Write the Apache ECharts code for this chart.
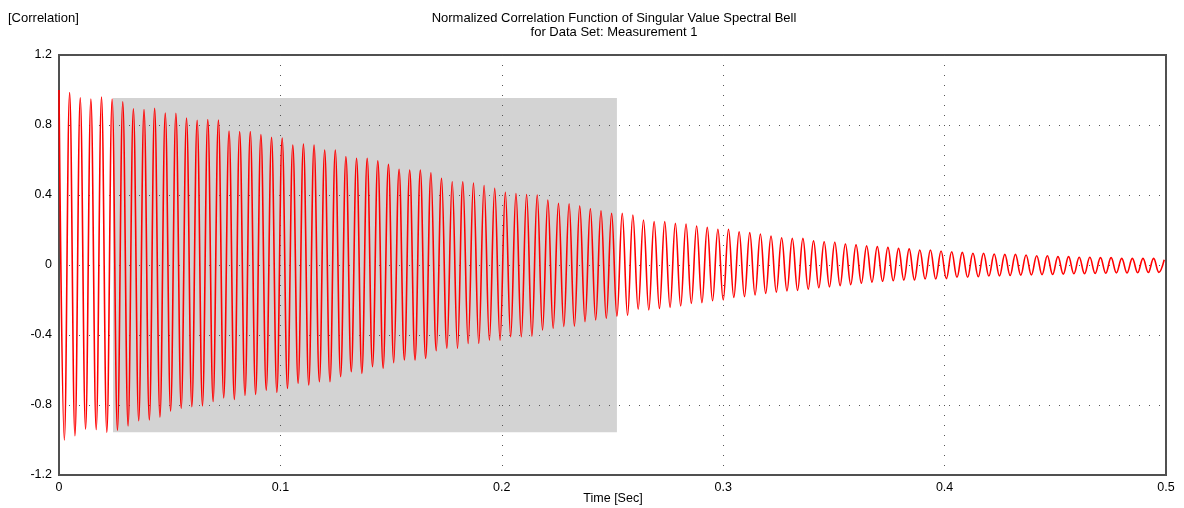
<!DOCTYPE html>
<html>
<head>
<meta charset="utf-8">
<script src="https://cdn.jsdelivr.net/npm/echarts@6/dist/echarts.min.js"></script>
<style>
html,body{margin:0;padding:0;background:#fff;}
#chart{width:1184px;height:508px;}
</style>
</head>
<body>
<div id="chart"></div>
<script>
// ---- Data ----
// Extremum values of the decaying correlation function (alternating peak / trough),
// one peak and one trough per oscillation period.
const peakValues = [
  1.00, 0.985, 0.955, 0.948, 0.96, 0.948, 0.933, 0.893, 0.888, 0.895,
  0.868, 0.867, 0.84, 0.827, 0.831, 0.828, 0.766, 0.762, 0.762, 0.745,
  0.73, 0.725, 0.686, 0.691, 0.686, 0.657, 0.657, 0.619, 0.61, 0.61,
  0.596, 0.575, 0.547, 0.543, 0.543, 0.527, 0.495, 0.476, 0.476, 0.468,
  0.454, 0.438, 0.415, 0.408, 0.403, 0.40, 0.371, 0.352, 0.35, 0.338,
  0.322, 0.31, 0.295, 0.295, 0.286, 0.257, 0.248, 0.248, 0.238, 0.234,
  0.223, 0.215, 0.204, 0.204, 0.19, 0.185, 0.177, 0.166, 0.156, 0.152,
  0.152, 0.138, 0.133, 0.13, 0.12, 0.115, 0.109, 0.105, 0.101, 0.095,
  0.092, 0.086, 0.086, 0.08, 0.076, 0.072, 0.067, 0.067, 0.063, 0.061,
  0.061, 0.057, 0.053, 0.053, 0.048, 0.048, 0.044, 0.044, 0.042, 0.042,
  0.038, 0.038, 0.038, 0.038, 0.03
];
const troughValues = [
  -1.0, -0.976, -0.938, -0.94, -0.957, -0.945, -0.92, -0.89, -0.886, -0.87,
  -0.835, -0.82, -0.81, -0.805, -0.78, -0.76, -0.768, -0.745, -0.74, -0.715,
  -0.728, -0.705, -0.676, -0.686, -0.667, -0.667, -0.638, -0.61, -0.619, -0.581,
  -0.59, -0.558, -0.543, -0.543, -0.533, -0.49, -0.476, -0.476, -0.448, -0.448,
  -0.429, -0.429, -0.41, -0.41, -0.406, -0.371, -0.362, -0.352, -0.349, -0.324,
  -0.314, -0.305, -0.293, -0.288, -0.253, -0.257, -0.248, -0.242, -0.234, -0.219,
  -0.215, -0.204, -0.2, -0.185, -0.181, -0.171, -0.162, -0.155, -0.148, -0.145,
  -0.138, -0.13, -0.125, -0.118, -0.112, -0.104, -0.098, -0.093, -0.09, -0.086,
  -0.086, -0.08, -0.08, -0.078, -0.07, -0.07, -0.067, -0.063, -0.062, -0.06,
  -0.058, -0.057, -0.055, -0.054, -0.052, -0.05, -0.05, -0.048, -0.047, -0.045,
  -0.045, -0.044, -0.043, -0.042
];
// Sampling step between successive extrema (half an oscillation period, seconds)
const extremumStep = 0.0024;

// Shaded window (time range and level range)
const shadedTime = [0.0244, 0.252];
const shadedLevel = [-0.955, 0.955];

// Axis ticks
const xTicks = ['0', '0.1', '0.2', '0.3', '0.4', '0.5'];
const yTicks = ['-1.2', '-0.8', '-0.4', '0', '0.4', '0.8', '1.2'];

const titleText = 'Normalized Correlation Function of Singular Value Spectral Bell\nfor Data Set: Measurement 1';
const yName = '[Correlation]';
const xName = 'Time [Sec]';

// ---- Build series from arrays ----
const lineData = [];
const nExt = peakValues.length + troughValues.length;
for (let k = 0; k < nExt; k++) {
  const v = (k % 2 === 0) ? peakValues[k / 2] : troughValues[(k - 1) / 2];
  lineData.push([k * extremumStep, v]);
}

const FONT = '"Liberation Sans", Arial, Helvetica, sans-serif';
const chart = echarts.init(document.getElementById('chart'), null, {renderer: 'canvas'});
chart.setOption({
  animation: false,
  backgroundColor: '#ffffff',
  title: [
    {
      text: titleText,
      left: 614,
      top: 11,
      padding: 0,
      textAlign: 'center',
      textStyle: {fontFamily: FONT, fontSize: 13, fontWeight: 'normal', color: '#000', lineHeight: 14}
    },
    {
      text: yName,
      left: 8,
      top: 11,
      padding: 0,
      textStyle: {fontFamily: FONT, fontSize: 13, fontWeight: 'normal', color: '#000', lineHeight: 14}
    },
    {
      text: xName,
      left: 613,
      top: 492,
      padding: 0,
      textAlign: 'center',
      textStyle: {fontFamily: FONT, fontSize: 12.5, fontWeight: 'normal', color: '#000', lineHeight: 14}
    }
  ],
  grid: {
    left: 59, right: 18, top: 55, bottom: 33,
    containLabel: false,
    outerBoundsMode: 'none',
    show: true, borderColor: '#505050', borderWidth: 2, backgroundColor: 'transparent'
  },
  xAxis: {
    type: 'value',
    min: 0, max: 0.5, interval: 0.1,
    axisLine: {show: true, onZero: false, lineStyle: {color: '#505050', width: 2}},
    axisTick: {show: false},
    axisLabel: {
      fontFamily: FONT, fontSize: 12.5, color: '#000', margin: 6,
      formatter: function (v) { return xTicks[Math.round(v / 0.1)]; }
    },
    splitLine: {show: true, lineStyle: {color: '#555', width: 1, type: [1, 9]}}
  },
  yAxis: {
    type: 'value',
    min: -1.2, max: 1.2, interval: 0.4,
    axisLine: {show: true, onZero: false, lineStyle: {color: '#505050', width: 2}},
    axisTick: {show: false},
    axisLabel: {
      fontFamily: FONT, fontSize: 12.5, color: '#000', margin: 7,
      formatter: function (v) { return yTicks[Math.round((v + 1.2) / 0.4)]; }
    },
    splitLine: {show: true, lineStyle: {color: '#555', width: 1, type: [1, 9]}}
  },
  series: [
    {
      type: 'custom',
      z: -1,
      silent: true,
      data: [[shadedTime[0], shadedLevel[0], shadedTime[1], shadedLevel[1]]],
      renderItem: function (params, api) {
        const p0 = api.coord([api.value(0), api.value(3)]);
        const p1 = api.coord([api.value(2), api.value(1)]);
        return {
          type: 'rect',
          shape: {x: p0[0], y: p0[1], width: p1[0] - p0[0], height: p1[1] - p0[1]},
          style: {fill: '#d3d3d3'}
        };
      }
    },
    {
      type: 'line',
      data: lineData,
      showSymbol: false,
      smooth: 0.4,
      z: 3,
      lineStyle: {color: '#ff0000', width: 1.6}
    }
  ]
});
</script>
</body>
</html>
